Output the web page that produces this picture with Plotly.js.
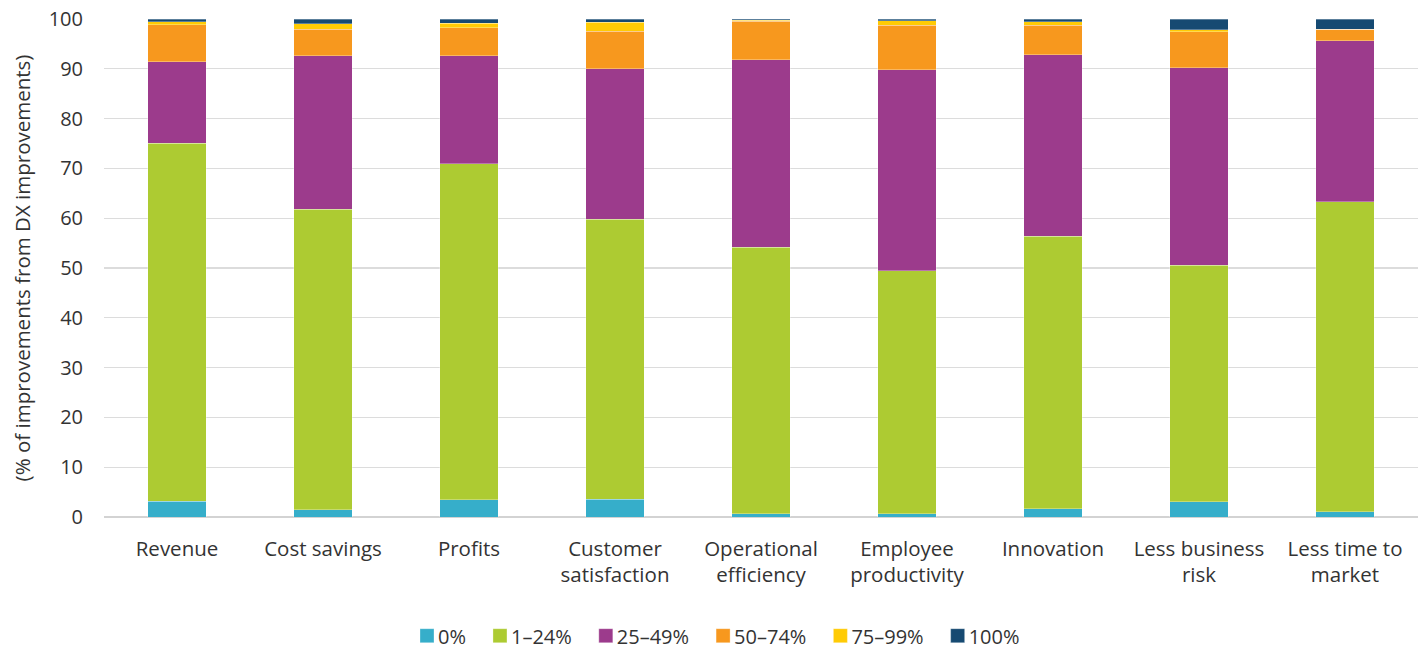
<!DOCTYPE html>
<html>
<head>
<meta charset="utf-8">
<script src="https://cdn.plot.ly/plotly-3.0.1.min.js"></script>
<style>html,body{margin:0;padding:0;background:#fff;}#chart{width:1423px;height:648px;}</style>
</head>
<body>
<div id="chart"></div>
<script>
const categories = ["Revenue", "Cost savings", "Profits", "Customer<br>satisfaction", "Operational<br>efficiency", "Employee<br>productivity", "Innovation", "Less business<br>risk", "Less time to<br>market"];
const seriesNames = ["0%", "1–24%", "25–49%", "50–74%", "75–99%", "100%"];
const s0 = [3.2, 1.5, 3.5, 3.6, 0.7, 0.7, 1.7, 3.1, 1.1];
const s1 = [71.9, 60.3, 67.4, 56.2, 53.5, 48.7, 54.7, 47.5, 62.2];
const s2 = [16.3, 30.8, 21.7, 30.2, 37.6, 40.4, 36.4, 39.6, 32.3];
const s3 = [7.4, 5.3, 5.6, 7.5, 7.7, 8.9, 5.9, 7.2, 2.3];
const s4 = [0.6, 1.1, 0.9, 1.8, 0.2, 0.9, 0.7, 0.4, 0.0];
const s5 = [0.6, 1.0, 0.9, 0.7, 0.3, 0.4, 0.6, 2.2, 2.1];
const colors = ["#36AECA", "#ADCB32", "#9C3B8C", "#F7981E", "#FFCB05", "#164A72"];

const allSeries = [s0, s1, s2, s3, s4, s5];
const traces = allSeries.map((vals, i) => ({
  type: "bar",
  name: seriesNames[i],
  x: categories,
  y: vals,
  width: 0.4,
  marker: {color: colors[i], line: {color: "rgba(255,255,255,0.5)", width: 0.6}},
  hoverinfo: "x+y+name"
}));

const layout = {
  barmode: "stack",
  width: 1423,
  height: 648,
  margin: {l: 104, r: 5, t: 19, b: 131},
  paper_bgcolor: "#fff",
  plot_bgcolor: "#fff",
  font: {family: "'Open Sans', 'Noto Sans', sans-serif", color: "#333", size: 20},
  xaxis: {
    type: "category",
    showgrid: false,
    showline: false,
    ticks: "",
    ticklabelstandoff: 17,
    tickfont: {size: 20.5, color: "#333"},
    automargin: false
  },
  yaxis: {
    range: [0, 100],
    dtick: 10,
    showgrid: true,
    gridcolor: "#dcdcdc",
    gridwidth: 1.3,
    zeroline: true,
    zerolinecolor: "#d3d3d3",
    zerolinewidth: 1.6,
    ticks: "",
    ticklabelstandoff: 20,
    tickfont: {size: 20, color: "#333"},
    title: {text: "(% of improvements from DX improvements)", font: {size: 20.5, color: "#333"}, standoff: 12},
    automargin: false
  },
  legend: {
    orientation: "h",
    x: 0.5,
    xanchor: "center",
    xref: "container",
    yref: "container",
    y: 0.019,
    yanchor: "middle",
    font: {size: 20, color: "#333"},
    traceorder: "normal",
    itemwidth: 30
  },
  showlegend: true
};

Plotly.newPlot("chart", traces, layout, {displayModeBar: false, staticPlot: true}).then(function (gd) {
  gd.querySelectorAll(".legend .legendpoints path").forEach(function (p) {
    p.setAttribute("d", "M7,7H-7V-7H7Z");
    p.setAttribute("transform", (p.getAttribute("transform") || "") + " translate(9,0)");
  });
});
</script>
</body>
</html>
